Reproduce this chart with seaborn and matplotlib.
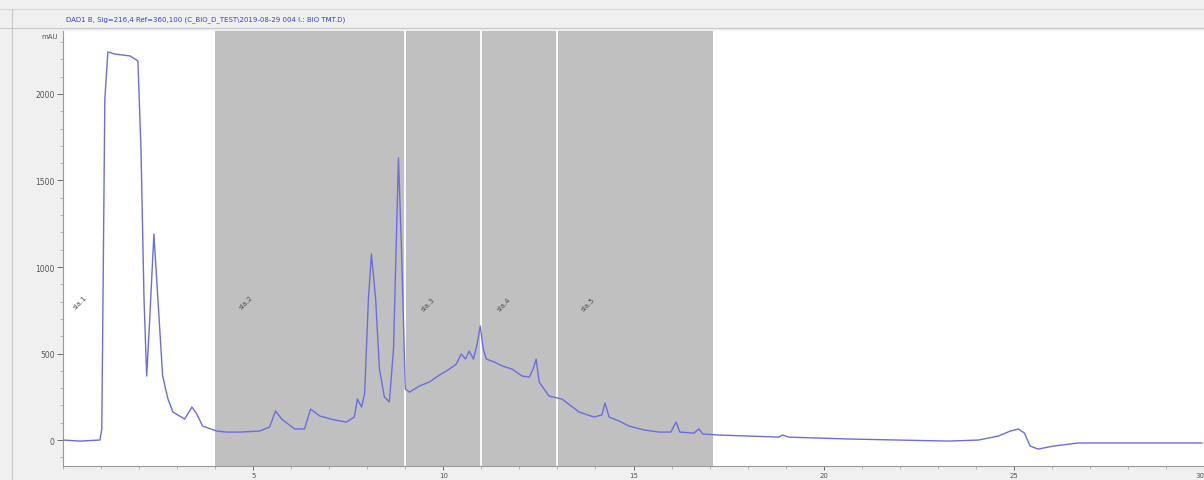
import numpy as np
import pandas as pd
import matplotlib
matplotlib.use("Agg")
import matplotlib.pyplot as plt
import seaborn as sns
from matplotlib.lines import Line2D

# ---- data ----
time_min = [0, 0.45, 0.97, 1.02, 1.10, 1.18, 1.36, 1.76, 1.97, 2.05, 2.13, 2.20, 2.28, 2.39,
            2.49, 2.62, 2.76, 2.89, 3.20, 3.39, 3.52, 3.67, 4.04, 4.30, 4.65, 5.17, 5.43,
            5.59, 5.75, 6.09, 6.35, 6.51, 6.75, 7.14, 7.45, 7.66, 7.74, 7.85, 7.93, 8.03,
            8.11, 8.22, 8.32, 8.45, 8.58, 8.69, 8.82, 8.90, 9.00, 9.11, 9.37, 9.63, 9.90,
            10.16, 10.34, 10.47, 10.58, 10.68, 10.79, 10.89, 10.97, 11.05, 11.13, 11.34,
            11.55, 11.81, 12.07, 12.26, 12.36, 12.44, 12.52, 12.78, 13.12, 13.57, 13.96,
            14.17, 14.25, 14.36, 14.62, 14.88, 15.28, 15.67, 15.98, 16.12, 16.22, 16.59,
            16.72, 16.82, 17.24, 18.03, 18.82, 18.92, 19.08, 20.66, 21.97, 23.28, 24.07,
            24.59, 24.91, 25.12, 25.28, 25.43, 25.64, 26.04, 26.69, 28.53, 29.95]
absorbance_mau = [0, -6, 0, 64, 1971, 2243, 2231, 2220, 2191, 1682, 815, 370, 699, 1191,
                  832, 370, 237, 162, 121, 191, 150, 81, 52, 46, 46, 52, 75,
                  168, 121, 64, 64, 179, 139, 116, 104, 133, 237, 191, 266, 815,
                  1075, 815, 410, 249, 220, 526, 1630, 1104, 295, 277, 312, 335, 376,
                  410, 439, 497, 468, 514, 468, 555, 659, 526, 468, 451,
                  428, 410, 370, 364, 410, 468, 335, 254, 237, 162, 133,
                  145, 214, 133, 110, 81, 58, 46, 46, 104, 46, 40,
                  64, 35, 29, 23, 17, 29, 17, 6, 0, -6, 0,
                  23, 52, 64, 40, -35, -52, -35, -17, -17, -17]

fraction_bounds = [4.0, 17.1]
fraction_dividers = [9.0, 11.0, 13.0]
fraction_labels = ["sia.1", "sia.2", "sia.3", "sia.4", "sia.5"]
fraction_label_x = [0.25, 4.6, 9.4, 11.4, 13.6]
fraction_label_y = [800, 800, 790, 790, 790]

x_ticks = [5, 10, 15, 20, 25, 30]
y_ticks = [0, 500, 1000, 1500, 2000]
title_text = "DAD1 B, Sig=216,4 Ref=360,100 (C_BIO_D_TEST\\2019-08-29 004 I.: BIO TMT.D)"

df = pd.DataFrame({"time": time_min, "mAU": absorbance_mau})

sns.set_style("white")
plt.rcParams["font.family"] = ["DejaVu Sans"]

fig = plt.figure(figsize=(12.04, 4.81), dpi=100, facecolor="#f0f0f0")
ax = fig.add_axes([63 / 1204, 1 - 467 / 481, 1 - 63 / 1204, (467 - 32) / 481])
ax.set_facecolor("white")

ax.axvspan(fraction_bounds[0], fraction_bounds[1], color="#c0c0c0", zorder=0, lw=0)
for xd in fraction_dividers:
    ax.axvline(xd, color="white", lw=1.3, zorder=1)

sns.lineplot(data=df, x="time", y="mAU", ax=ax, color="#6c6ce0", lw=1.0, zorder=3)

for lab, lx, ly in zip(fraction_labels, fraction_label_x, fraction_label_y):
    ax.text(lx, ly, lab, rotation=45, fontsize=5, color="#505050",
            ha="left", va="center", zorder=4)

ax.set_xlim(0, 30)
ax.set_ylim(-150, 2364)
ax.set_xticks(x_ticks)
ax.set_yticks(y_ticks)
ax.set_yticks(np.arange(-100, 2400, 100), minor=True)
ax.set_xticks(np.arange(0, 30.1, 1), minor=True)
ax.tick_params(axis="x", which="major", labelsize=5, colors="#555555",
               length=3, width=0.6, direction="out", pad=1, bottom=True)
ax.tick_params(axis="y", which="major", labelsize=5.5, colors="#555555",
               length=4, width=0.6, direction="out", pad=2, left=True)
ax.tick_params(axis="both", which="minor", length=2, width=0.5, color="#999999",
               left=True, bottom=True)
xl = ax.get_xticklabels()
xl[-1].set_horizontalalignment("right")
ax.set_xlabel("")
ax.set_ylabel("")
for s in ["top", "right"]:
    ax.spines[s].set_visible(False)
for s in ["left", "bottom"]:
    ax.spines[s].set_color("#999999")
    ax.spines[s].set_linewidth(0.8)

# unit label at top of y axis
fig.text(58 / 1204, 1 - 37 / 481, "mAU", fontsize=5, color="#555555", ha="right", va="center")

# header band and title
fig.add_artist(Line2D([0, 1], [1 - 10 / 481, 1 - 10 / 481], color="#d8d8d8", lw=0.8))
fig.add_artist(Line2D([0, 1], [1 - 29 / 481, 1 - 29 / 481], color="#c8c8c8", lw=0.8))
fig.add_artist(Line2D([12 / 1204, 12 / 1204], [0, 1 - 10 / 481], color="#c8c8c8", lw=0.8))
fig.text(66 / 1204, 1 - 20 / 481, title_text, fontsize=5, color="#3c3cd0", ha="left", va="center")

fig.savefig("out.png", dpi=100, facecolor=fig.get_facecolor())
